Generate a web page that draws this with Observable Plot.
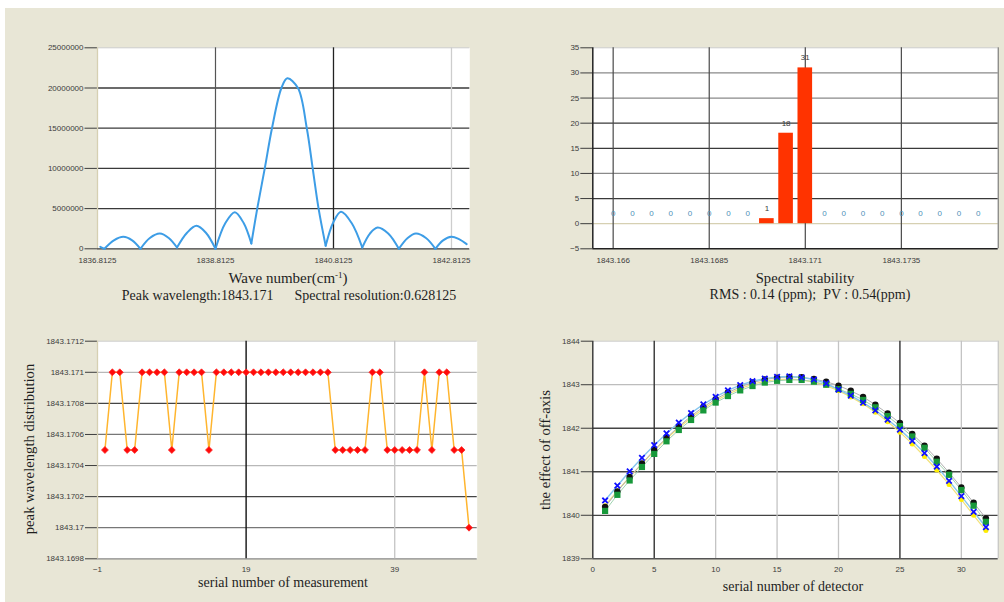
<!DOCTYPE html>
<html><head><meta charset="utf-8">
<script src="https://cdn.jsdelivr.net/npm/d3@7"></script>
<script src="https://cdn.jsdelivr.net/npm/@observablehq/plot@0.6"></script>
<style>
body{margin:0;background:#fff;width:1004px;height:602px;overflow:hidden;position:relative;}
#bg{position:absolute;left:5px;top:8px;width:999px;height:594px;background:#e8e6d6;}
.panel{position:absolute;}
.cap{position:absolute;white-space:pre;color:#1e1e1e;font-family:"Liberation Serif","Times New Roman",serif;font-size:14px;line-height:14px;transform:translateX(-50%);}
.vcap{position:absolute;white-space:pre;color:#1e1e1e;font-family:"Liberation Serif","Times New Roman",serif;font-size:14.7px;line-height:15px;transform:translate(-50%,-50%) rotate(-90deg);}
sup{font-size:9px;line-height:0;vertical-align:5px;}
</style></head><body>
<div id="bg"></div>
<div id="p1" class="panel" style="left:0;top:0"></div>
<div id="p2" class="panel" style="left:500px;top:0"></div>
<div id="p3" class="panel" style="left:0;top:310px"></div>
<div id="p4" class="panel" style="left:500px;top:310px"></div>
<div class="cap" style="left:288px;top:271px;font-size:15px">Wave number(cm<sup>-1</sup>)</div>
<div class="cap" style="left:289px;top:288.5px">Peak wavelength:1843.171      Spectral resolution:0.628125</div>
<div class="cap" style="left:805px;top:271px;font-size:14.6px">Spectral stability</div>
<div class="cap" style="left:810px;top:288px">RMS : 0.14 (ppm);  PV : 0.54(ppm)</div>
<div class="cap" style="left:283px;top:576px">serial number of measurement</div>
<div class="cap" style="left:793px;top:580px">serial number of detector</div>
<div class="vcap" style="left:29px;top:449px">peak wavelength distribution</div>
<div class="vcap" style="left:545px;top:450px">the effect of off-axis</div>
<script>
// ---------- Panel 1: spectrum ----------
const spectrumWave = [1836.86, 1836.93, 1837.09, 1837.25, 1837.40, 1837.54, 1837.70, 1837.87, 1838.02, 1838.16,
  1838.33, 1838.49, 1838.65, 1838.8125, 1838.98, 1839.14, 1839.29, 1839.42, 1839.52, 1839.65,
  1839.77, 1839.93, 1840.03, 1840.21, 1840.36, 1840.46, 1840.56, 1840.68, 1840.81, 1840.94,
  1841.12, 1841.30, 1841.43, 1841.56, 1841.74, 1841.92, 1842.07, 1842.21, 1842.38, 1842.54,
  1842.67, 1842.81, 1842.94, 1843.07];
const spectrumIntensity = [250000, 0, 1050000, 1490000, 1050000, 0, 1350000, 1900000, 1350000, 160000,
  2000000, 2860000, 2000000, 0, 3200000, 4560000, 3200000, 660000, 5000000, 10100000,
  15000000, 20000000, 21200000, 20000000, 15000000, 10000000, 5000000, 370000, 3300000, 4600000,
  3200000, 160000, 1900000, 2650000, 1900000, 0, 1350000, 1900000, 1350000, 0,
  1050000, 1490000, 1200000, 580000];
const spectrumXTicks = [1836.8125, 1838.8125, 1840.8125, 1842.8125];
const spectrumYTicks = [0, 5000000, 10000000, 15000000, 20000000, 25000000];

// ---------- Panel 2: spectral stability histogram ----------
const stabilityWave = [1843.166, 1843.1665, 1843.167, 1843.1675, 1843.168, 1843.1685, 1843.169, 1843.1695, 1843.170, 1843.1705,
  1843.171, 1843.1715, 1843.172, 1843.1725, 1843.173, 1843.1735, 1843.174, 1843.1745, 1843.175, 1843.1755];
const stabilityCount = [0, 0, 0, 0, 0, 0, 0, 0, 1, 18, 31, 0, 0, 0, 0, 0, 0, 0, 0, 0];
const stabilityXTicks = [1843.166, 1843.1685, 1843.171, 1843.1735];
const stabilityYTicks = [-5, 0, 5, 10, 15, 20, 25, 30, 35];

// ---------- Panel 3: peak wavelength per measurement ----------
const measurementNo = [0,1,2,3,4,5,6,7,8,9,10,11,12,13,14,15,16,17,18,19,20,21,22,23,24,25,26,27,28,29,30,31,32,33,34,35,36,37,38,39,40,41,42,43,44,45,46,47,48,49];
const peakWavelength = [1843.1705, 1843.171, 1843.171, 1843.1705, 1843.1705, 1843.171, 1843.171, 1843.171, 1843.171, 1843.1705,
  1843.171, 1843.171, 1843.171, 1843.171, 1843.1705, 1843.171, 1843.171, 1843.171, 1843.171, 1843.171,
  1843.171, 1843.171, 1843.171, 1843.171, 1843.171, 1843.171, 1843.171, 1843.171, 1843.171, 1843.171,
  1843.171, 1843.1705, 1843.1705, 1843.1705, 1843.1705, 1843.1705, 1843.171, 1843.171, 1843.1705, 1843.1705,
  1843.1705, 1843.1705, 1843.1705, 1843.171, 1843.1705, 1843.171, 1843.171, 1843.1705, 1843.1705, 1843.170];
const measurementXTicks = [-1, 19, 39];
const measurementYTicks = [1843.1698, 1843.17, 1843.1702, 1843.1704, 1843.1706, 1843.1708, 1843.171, 1843.1712];

// ---------- Panel 4: off-axis effect per detector ----------
const detectorNo = [1,2,3,4,5,6,7,8,9,10,11,12,13,14,15,16,17,18,19,20,21,22,23,24,25,26,27,28,29,30,31,32];
const seriesBlue = [1840.34, 1840.68, 1841.01, 1841.32, 1841.61, 1841.88, 1842.13, 1842.35, 1842.55, 1842.72, 1842.87, 1842.99, 1843.08, 1843.14, 1843.18, 1843.19,
  1843.17, 1843.12, 1843.03, 1842.89, 1842.75, 1842.59, 1842.41, 1842.20, 1841.97, 1841.71, 1841.43, 1841.12, 1840.79, 1840.44, 1840.08, 1839.73];
const seriesBlack = [1840.19, 1840.55, 1840.88, 1841.19, 1841.50, 1841.78, 1842.04, 1842.28, 1842.49, 1842.67, 1842.82, 1842.95, 1843.05, 1843.12, 1843.16, 1843.18,
  1843.17, 1843.13, 1843.07, 1842.98, 1842.86, 1842.72, 1842.54, 1842.34, 1842.12, 1841.87, 1841.60, 1841.30, 1840.98, 1840.64, 1840.29, 1839.93];
const seriesGreen = [1840.10, 1840.47, 1840.80, 1841.11, 1841.41, 1841.70, 1841.96, 1842.19, 1842.41, 1842.59, 1842.74, 1842.87, 1842.97, 1843.05, 1843.09, 1843.11,
  1843.11, 1843.07, 1843.00, 1842.90, 1842.79, 1842.65, 1842.48, 1842.28, 1842.05, 1841.81, 1841.55, 1841.23, 1840.93, 1840.58, 1840.22, 1839.85];
const seriesYellow = [1840.22, 1840.56, 1840.88, 1841.18, 1841.48, 1841.76, 1842.01, 1842.24, 1842.45, 1842.63, 1842.78, 1842.91, 1843.01, 1843.08, 1843.12, 1843.13,
  1843.11, 1843.06, 1842.98, 1842.86, 1842.72, 1842.56, 1842.37, 1842.15, 1841.91, 1841.64, 1841.35, 1841.04, 1840.71, 1840.36, 1840.00, 1839.65];
const detectorXTicks = [0, 5, 10, 15, 20, 25, 30];
const detectorYTicks = [1839, 1840, 1841, 1842, 1843, 1844];

// ---------- shared styling ----------
const axisStyle = {fontFamily: "'Liberation Sans', Arial, sans-serif", fontSize: "8px", color: "#3c3c3c", background: "transparent", overflow: "visible"};
const DARK = "#3a3a3a", MID = "#8a8a8a", LIGHT = "#cdcdcd", TAN = "#d6d0b2";
const fmt4 = d => String(+(+d).toFixed(4));

// Panel 1: split spectrum into lobes at local minima (cusps)
const specRows = [];
let seg = 0;
spectrumWave.forEach((w, i) => {
  const v = spectrumIntensity[i];
  specRows.push({w, v, seg});
  const isMin = i > 0 && i < spectrumWave.length - 1 && v <= spectrumIntensity[i - 1] && v <= spectrumIntensity[i + 1];
  if (isMin) { seg++; specRows.push({w, v, seg}); }
});

const p1 = Plot.plot({
  width: 500, height: 310,
  marginLeft: 97, marginRight: 30.7, marginTop: 47.3, marginBottom: 61.7,
  style: axisStyle,
  x: {domain: [1836.8125, 1843.123], ticks: spectrumXTicks, tickSize: 0, tickPadding: 8.5, tickFormat: d => (+d).toFixed(4), label: null},
  y: {domain: [0, 25000000], ticks: spectrumYTicks, tickSize: 12.5, tickPadding: 1.5, tickFormat: d => String(d), label: null},
  marks: [
    Plot.frame({fill: "white", stroke: "none"}),
    Plot.ruleY(spectrumYTicks.filter(t => t > 0 && t < 25000000), {stroke: DARK, strokeWidth: 1.3}),
    Plot.ruleY([25000000], {stroke: LIGHT}),
    Plot.ruleX([spectrumXTicks[0]], {stroke: TAN, strokeWidth: 1.3}),
    Plot.ruleX([spectrumXTicks[1]], {stroke: "#555", strokeWidth: 1.2}),
    Plot.ruleX([spectrumXTicks[2]], {stroke: "#222", strokeWidth: 1.3}),
    Plot.ruleX([spectrumXTicks[3]], {stroke: LIGHT, strokeWidth: 1.3}),
    Plot.ruleY([0], {stroke: DARK, strokeWidth: 1.3}),
    Plot.line(specRows, {x: "w", y: "v", z: "seg", curve: "catmull-rom", stroke: "#3d9de6", strokeWidth: 2})
  ]
});
document.getElementById("p1").appendChild(p1);

// Panel 2: histogram
const stabRows = stabilityWave.map((w, i) => ({w, c: stabilityCount[i]}));
const p2 = Plot.plot({
  width: 504, height: 310,
  marginLeft: 92.3, marginRight: 6.3, marginTop: 47.3, marginBottom: 61.7,
  style: axisStyle,
  x: {domain: [1843.16547, 1843.17602], ticks: stabilityXTicks, tickSize: 0, tickPadding: 8.5, tickFormat: fmt4, label: null},
  y: {domain: [-5, 35], ticks: stabilityYTicks, tickSize: 12, tickPadding: 1.5, label: null},
  marks: [
    Plot.frame({fill: "white", stroke: "none"}),
    Plot.ruleY([35], {stroke: LIGHT}),
    Plot.ruleY([30, 25, 10], {stroke: MID, strokeWidth: 1.2}),
    Plot.ruleY([20, 15, 5], {stroke: DARK, strokeWidth: 1.3}),
    Plot.ruleY([0], {stroke: TAN, strokeWidth: 1.2}),
    Plot.ruleX(stabilityXTicks, {stroke: "#4a4a4a", strokeWidth: 1.2}),
    Plot.ruleX([1843.17602], {stroke: "#666"}),
    Plot.ruleX([1843.16547], {stroke: "#222", strokeWidth: 1.5}),
    Plot.ruleY([-5], {stroke: "#222", strokeWidth: 1.5}),
    Plot.rectY(stabRows.filter(d => d.c > 0), {x1: d => d.w - 0.00025, x2: d => d.w + 0.00025, y1: 0, y2: "c", insetLeft: 2.3, insetRight: 2.3, fill: "#ff3300"}),
    Plot.text(stabRows.filter(d => d.c === 0), {x: "w", y: "c", text: d => String(d.c), dy: -10, fill: "#4d90b8", fontSize: 8}),
    Plot.text(stabRows.filter(d => d.c > 0), {x: "w", y: "c", text: d => String(d.c), dy: -10, fill: "#3a3a3a", fontSize: 8})
  ]
});
document.getElementById("p2").appendChild(p2);

// Panel 3: measurements
const measRows = measurementNo.map((n, i) => ({n, v: peakWavelength[i]}));
const p3 = Plot.plot({
  width: 500, height: 292,
  marginLeft: 97, marginRight: 23.3, marginTop: 30.7, marginBottom: 43.7,
  style: axisStyle,
  x: {domain: [-1, 50.1], ticks: measurementXTicks, tickSize: 0, tickPadding: 8, label: null},
  y: {domain: [1843.1698, 1843.1712], ticks: measurementYTicks, tickSize: 12, tickPadding: 1.5, tickFormat: fmt4, label: null},
  marks: [
    Plot.frame({fill: "white", stroke: "none"}),
    Plot.ruleY([1843.1712], {stroke: LIGHT}),
    Plot.ruleY([1843.171, 1843.1704], {stroke: "#b8b8b8", strokeWidth: 1.2}),
    Plot.ruleY([1843.1708, 1843.1702], {stroke: "#444", strokeWidth: 1.3}),
    Plot.ruleY([1843.1706, 1843.17], {stroke: "#777", strokeWidth: 1.3}),
    Plot.ruleY([1843.1698], {stroke: "#888", strokeWidth: 1.3}),
    Plot.ruleX([-1], {stroke: TAN, strokeWidth: 1.3}),
    Plot.ruleX([19], {stroke: "#111", strokeWidth: 1.4}),
    Plot.ruleX([39], {stroke: "#c4c4c4", strokeWidth: 1.3}),
    Plot.line(measRows, {x: "n", y: "v", stroke: "#ffb52e", strokeWidth: 1.5}),
    Plot.dot(measRows, {x: "n", y: "v", symbol: "diamond2", r: 3.1, fill: "#ff0a0a", stroke: "#ff2a2a", strokeWidth: 0.8})
  ]
});
document.getElementById("p3").appendChild(p3);

// Panel 4: detectors
const mk = arr => detectorNo.map((d, i) => ({d, v: arr[i]}));
const rowsBlue = mk(seriesBlue), rowsBlack = mk(seriesBlack), rowsGreen = mk(seriesGreen), rowsYellow = mk(seriesYellow);
const p4 = Plot.plot({
  width: 504, height: 292,
  marginLeft: 92.3, marginRight: 6.3, marginTop: 30.7, marginBottom: 43.7,
  style: axisStyle,
  x: {domain: [0, 33], ticks: detectorXTicks, tickSize: 0, tickPadding: 8, label: null},
  y: {domain: [1839, 1844], ticks: detectorYTicks, tickSize: 11.5, tickPadding: 1.5, tickFormat: d => String(d), label: null},
  marks: [
    Plot.frame({fill: "white", stroke: "none"}),
    Plot.ruleY([1844], {stroke: LIGHT}),
    Plot.ruleY([1843], {stroke: "#bdbdbd", strokeWidth: 1.2}),
    Plot.ruleY([1842, 1841, 1840], {stroke: "#444", strokeWidth: 1.3}),
    Plot.ruleX([10, 15, 20, 30], {stroke: "#c4c4c4", strokeWidth: 1.3}),
    Plot.ruleX([5, 25], {stroke: "#333", strokeWidth: 1.4}),
    Plot.ruleX([33], {stroke: "#bbb"}),
    Plot.ruleX([0], {stroke: "#333", strokeWidth: 1.4}),
    Plot.ruleY([1839], {stroke: "#555", strokeWidth: 1.4}),
    Plot.line(rowsYellow, {x: "d", y: "v", stroke: "#f2e27a", strokeWidth: 1.2}),
    Plot.line(rowsBlack, {x: "d", y: "v", stroke: "#b0b0b0", strokeWidth: 1}),
    Plot.line(rowsGreen, {x: "d", y: "v", stroke: "#9fd3b0", strokeWidth: 1}),
    Plot.line(rowsBlue, {x: "d", y: "v", stroke: "#86c6ee", strokeWidth: 1.4}),
    Plot.dot(rowsYellow, {x: "d", y: "v", r: 2.5, fill: "#ffee00"}),
    Plot.dot(rowsBlack, {x: "d", y: "v", r: 3.2, fill: "#111"}),
    Plot.dot(rowsGreen, {x: "d", y: "v", symbol: "square", r: 3.5, fill: "#17983a"}),
    Plot.dot(rowsBlue, {x: "d", y: "v", symbol: "times", r: 2.6, stroke: "#1010ff", strokeWidth: 1.8})
  ]
});
document.getElementById("p4").appendChild(p4);
</script>
</body></html>
